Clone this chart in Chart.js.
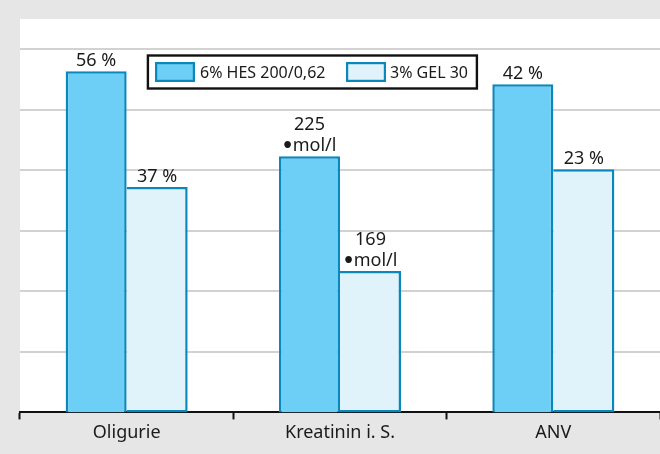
<!DOCTYPE html>
<html>
<head>
<meta charset="utf-8">
<script src="https://cdn.jsdelivr.net/npm/chart.js@4.4.1/dist/chart.umd.min.js"></script>
<style>
  html, body { margin: 0; padding: 0; background: #e6e6e6; }
  #wrap { width: 660px; height: 454px; position: relative; }
</style>
</head>
<body>
<div id="wrap"><canvas id="chart"></canvas></div>
<script>
// Outcome parameters per study arm
const categories = ['Oligurie', 'Kreatinin i. S.', 'ANV'];
const seriesNames = ['6% HES 200/0,62', '3% GEL 30'];
const hesValues = [56, 225, 42];
const gelValues = [37, 169, 23];
const valueUnits = ['%', '•mol/l', '%'];

const FONT = '"Noto Sans", "Open Sans", sans-serif';
const fills = ['#6dcff6', '#e0f2fa'];
const edge = '#0a88bd';

// each outcome is measured in its own unit, so each gets its own value axis
const axisRanges = [[0, 64.6], [100, 292], [-31.4, 56.6]];

const seriesValues = [hesValues, gelValues];
const datasets = [];
categories.forEach((cat, ci) => {
  seriesValues.forEach((vals, si) => {
    datasets.push({
      label: seriesNames[si],
      data: categories.map((_, j) => (j === ci ? vals[ci] : null)),
      yAxisID: 'y' + ci,
      base: axisRanges[ci][0],
      backgroundColor: fills[si],
      borderColor: edge,
      borderWidth: 2.5,
      borderSkipped: si === 0 ? 'bottom' : 'left',
      skipNull: true,
      categoryPercentage: 0.572,
      barPercentage: 1,
      catIndex: ci,
      seriesIndex: si
    });
  });
});

function labelLines(value, unit) {
  return unit === '%' ? [value + ' %'] : [String(value), unit];
}

// draws one centred label line; a leading bullet is set in a heavier face
function drawLine(ctx, text, cx, y) {
  const main = '18px ' + FONT;
  const dot = 'bold 19px "DejaVu Sans", sans-serif';
  let lead = '', rest = text;
  if (text.startsWith('•')) { lead = '•'; rest = text.slice(1); }
  ctx.font = dot;
  const wl = lead ? ctx.measureText(lead).width - 2 : 0;
  ctx.font = main;
  const wr = ctx.measureText(rest).width;
  let x = cx - (wl + wr) / 2;
  ctx.textAlign = 'left';
  if (lead) {
    ctx.font = dot;
    ctx.fillText(lead, x - 1, y + 1);
    x += wl;
  }
  ctx.font = main;
  ctx.fillText(rest, x, y);
}

const backdrop = {
  id: 'backdrop',
  beforeDraw(chart) {
    const { ctx, chartArea: a, width, height } = chart;
    ctx.save();
    ctx.fillStyle = '#e6e6e6';
    ctx.fillRect(0, 0, width, height);
    ctx.fillStyle = '#ffffff';
    ctx.fillRect(a.left, a.top, width - a.left, a.bottom - a.top);
    ctx.restore();
  }
};

const valueLabels = {
  id: 'valueLabels',
  afterDatasetsDraw(chart) {
    const { ctx } = chart;
    ctx.save();
    ctx.fillStyle = '#1a1a1a';
    ctx.textBaseline = 'alphabetic';
    chart.data.datasets.forEach((ds, di) => {
      const meta = chart.getDatasetMeta(di);
      const i = ds.catIndex;
      const bar = meta.data[i];
      if (!bar) return;
      const lines = labelLines(ds.data[i], valueUnits[i]);
      let y = bar.y - 5;
      for (let k = lines.length - 1; k >= 0; k--) {
        drawLine(ctx, lines[k], bar.x, y);
        y -= 21;
      }
    });
    ctx.restore();
  }
};

const boxLegend = {
  id: 'boxLegend',
  afterDatasetsDraw(chart) {
    const { ctx } = chart;
    ctx.save();
    ctx.fillStyle = '#ffffff';
    ctx.fillRect(147, 55, 330, 34);
    ctx.strokeStyle = '#111111';
    ctx.lineWidth = 2.4;
    ctx.strokeRect(147.9, 55.5, 329, 33);
    const swatchX = [155, 346];
    const textX = [200, 390];
    ctx.font = '16px ' + FONT;
    ctx.textBaseline = 'alphabetic';
    ctx.textAlign = 'left';
    seriesNames.forEach((name, si) => {
      ctx.fillStyle = fills[si];
      ctx.fillRect(swatchX[si], 62, 40, 20);
      ctx.strokeStyle = edge;
      ctx.lineWidth = 2.2;
      ctx.strokeRect(swatchX[si] + 1.1, 63.1, 37.8, 17.8);
      ctx.fillStyle = '#1a1a1a';
      ctx.fillText(name, textX[si], 77.5);
    });
    ctx.restore();
  }
};

const valueAxes = {};
axisRanges.forEach((r, ci) => {
  valueAxes['y' + ci] = { display: false, min: r[0], max: r[1] };
});

new Chart(document.getElementById('chart'), {
  type: 'bar',
  data: { labels: categories, datasets },
  options: {
    responsive: true,
    maintainAspectRatio: false,
    animation: false,
    layout: { padding: { left: 20, top: 19, right: 0, bottom: 7 } },
    plugins: { legend: { display: false }, tooltip: { enabled: false } },
    scales: {
      x: {
        z: 1,
        offset: true,
        grid: {
          offset: true,
          drawOnChartArea: false,
          drawTicks: true,
          tickLength: 7,
          tickWidth: 2,
          tickColor: '#111111'
        },
        border: { display: true, color: '#111111', width: 2 },
        ticks: { color: '#1a1a1a', padding: 3, font: { family: FONT, size: 18 } }
      },
      yGrid: {
        position: 'left',
        min: 0,
        max: 6.5,
        ticks: { display: false, stepSize: 1 },
        grid: {
          drawTicks: false,
          lineWidth: 2,
          color: (c) => (c.tick && c.tick.value > 0 && Number.isInteger(c.tick.value) ? '#d2d2d2' : 'rgba(0,0,0,0)')
        },
        border: { display: false }
      },
      ...valueAxes
    }
  },
  plugins: [backdrop, valueLabels, boxLegend]
});
</script>
</body>
</html>
